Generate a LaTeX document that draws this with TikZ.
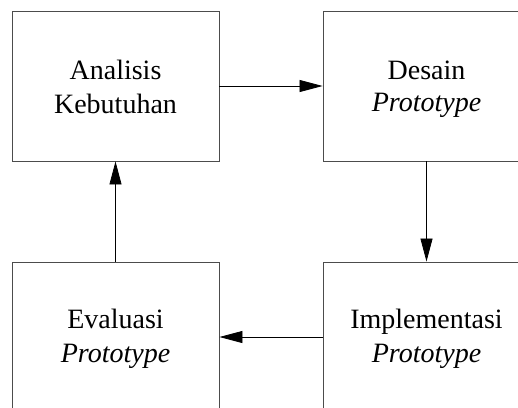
\documentclass[tikz,border=0pt]{standalone}
\usepackage{fontspec}
\setmainfont{Liberation Serif}
\usetikzlibrary{arrows.meta}
\begin{document}
\begin{tikzpicture}[x=1pt,y=-1pt,
  box/.style={draw=black!70, line width=0.9pt, minimum width=207pt, minimum height=150pt, inner sep=0pt},
  txt/.style={font=\fontsize{28}{33}\selectfont, inner sep=0pt, anchor=base},
  arr/.style={draw=black, line width=0.8pt, -{Triangle[length=23pt,width=12pt]}}]
\useasboundingbox (0,0) rectangle (518,407);
\clip (0,0) rectangle (518,407);
\node[box] (A) at (115.5,86) {};
\node[box] (D) at (426.5,86) {};
\node[box] (I) at (426.5,337) {};
\node[box] (E) at (115.5,337) {};
\node[txt, yshift=7pt] (a1) at (A.center) {Analisis};
\node[txt, yshift=-27pt] (a2) at (A.center) {Kebutuhan};
\node[txt, yshift=7pt] (d1) at (D.center) {Desain};
\node[txt, yshift=-25pt] (d2) at (D.center) {\itshape Prototype};
\node[txt, yshift=9pt] (i1) at (I.center) {Implementasi};
\node[txt, yshift=-25pt] (i2) at (I.center) {\itshape Prototype};
\node[txt, yshift=9pt] (e1) at (E.center) {Evaluasi};
\node[txt, yshift=-25pt] (e2) at (E.center) {\itshape Prototype};
\draw[arr] (A.east) -- (D.west);
\draw[arr] (D.south) -- (I.north);
\draw[arr] (I.west) -- (E.east);
\draw[arr] (E.north) -- (A.south);
\end{tikzpicture}
\end{document}
